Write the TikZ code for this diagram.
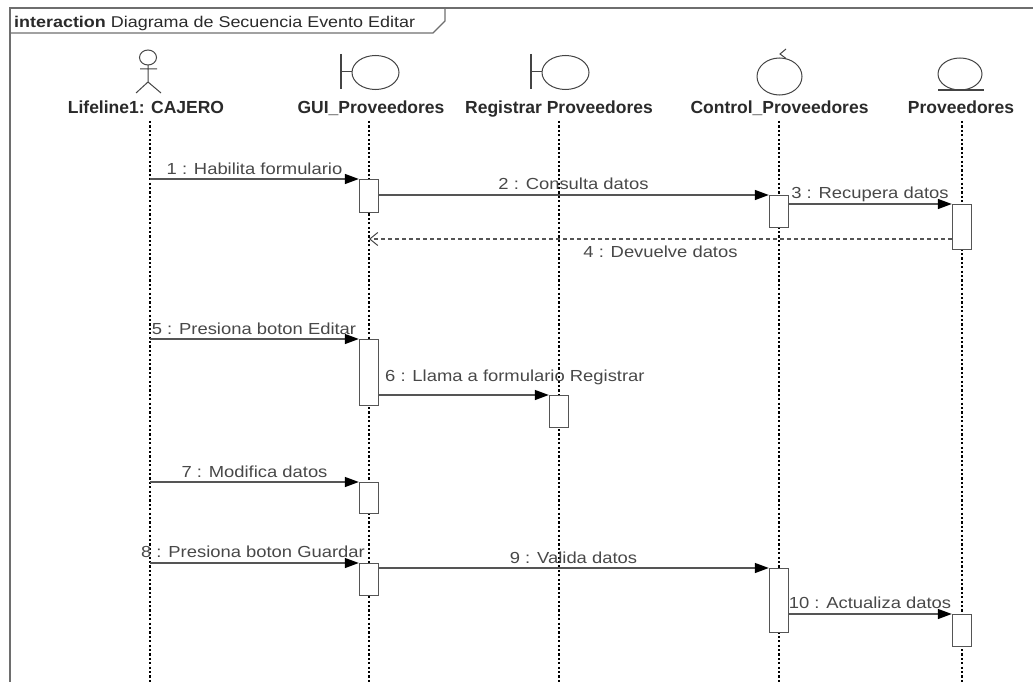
\documentclass[tikz,border=0pt]{standalone}
\usepackage{fontspec}
\setmainfont{Liberation Sans}
\newfontfamily\msgfont[FakeStretch=1.15]{Liberation Sans}
\usetikzlibrary{arrows.meta}
\definecolor{framec}{HTML}{6E6E6E}
\definecolor{ln}{HTML}{555555}
\definecolor{icn}{HTML}{444444}
\definecolor{txt}{HTML}{484848}
\definecolor{lbltxt}{HTML}{2A2A2A}
\begin{document}
\begin{tikzpicture}[x=1pt,y=-1pt,
  frameline/.style={draw=framec, line width=1.6pt},
  life/.style={draw=black, line width=1.1pt, dash pattern=on 2.2pt off 2.2pt},
  act/.style={draw=ln, line width=1.4pt, fill=white, minimum width=19pt, inner sep=0pt, anchor=north},
  msg/.style={draw=ln, line width=1.4pt, -{Triangle[length=14pt,width=10pt,fill=black,color=black]}},
  ret/.style={draw=ln, line width=1.2pt, dash pattern=on 4pt off 3pt, -{Straight Barb[length=8pt,width=13pt,line width=1pt,color=icn]}},
  mlbl/.style={font=\msgfont\fontsize{16}{18}\selectfont, text=txt, inner sep=0pt, anchor=base},
  lbl/.style={font=\bfseries\fontsize{17.5}{20}\selectfont, text=lbltxt, inner sep=0pt, anchor=base},
  icon/.style={draw=icn, line width=1pt}
]
\useasboundingbox (0,0) rectangle (1033,682);
% frame
\draw[frameline] (10,682) -- (10,8) -- (1033,8);
\draw[frameline, line width=1.2pt] (10,33) -- (433,33) -- (445,21) -- (445,8);
\node[inner sep=0pt, anchor=base west, text=lbltxt] (title) at (14,28)
  {\msgfont\fontsize{15.6}{18}\selectfont\bfseries interaction\mdseries\ Diagrama de Secuencia Evento Editar};

% lifeline heads
\node[lbl] (h1) at (146,114) {Lifeline1: CAJERO};
\node[lbl] (h2) at (371,114) {GUI\_Proveedores};
\node[lbl] (h3) at (559,114) {Registrar Proveedores};
\node[lbl] (h4) at (779.5,114) {Control\_Proveedores};
\node[lbl] (h5) at (961,114) {Proveedores};

% icons
\draw[icon] (148,57.5) ellipse [x radius=8.5, y radius=7.5];
\draw[icon] (148,65) -- (148,82) (140,69) -- (157,69) (136,93) -- (148,82) -- (161,93);
\draw[icon, line width=1.5pt] (341,54) -- (341,89);
\draw[icon] (341,72) -- (352,72);
\draw[icon] (375.5,72.5) ellipse [x radius=23.5, y radius=17];
\draw[icon, line width=1.5pt] (531,54) -- (531,89);
\draw[icon] (531,72) -- (542,72);
\draw[icon] (565.5,72.5) ellipse [x radius=23.5, y radius=17];
\draw[icon] (779.5,76.5) ellipse [x radius=22.5, y radius=18.5];
\draw[icon] (786,49) -- (780,54) -- (786,58.5);
\draw[icon] (960,74) ellipse [x radius=22, y radius=16];
\draw[icon, line width=1.5pt] (938,90) -- (984,90);

% lifelines
\coordinate (L1) at (150,121);
\coordinate (L2) at (369,121);
\coordinate (L3) at (559,121);
\coordinate (L4) at (779,121);
\coordinate (L5) at (962,121);
\foreach \n in {L1,L2,L3,L4,L5} \draw[life] (\n) -- (\n |- 0,682);

% activations
\node[act, minimum height=33pt] (a1) at (369,179) {};
\node[act, minimum height=32pt] (a2) at (779,195) {};
\node[act, minimum height=45pt] (a3) at (962,204) {};
\node[act, minimum height=66pt] (a5) at (369,339) {};
\node[act, minimum height=32pt] (a6) at (559,395) {};
\node[act, minimum height=31pt] (a7) at (369,482) {};
\node[act, minimum height=32pt] (a8) at (369,563) {};
\node[act, minimum height=64pt] (a9) at (779,568) {};
\node[act, minimum height=32pt] (a10) at (962,614) {};

% messages
\draw[msg] (L1 |- a1.north) -- (a1.north west);
\draw[msg] (a1.east |- a2.north) -- (a2.north west);
\draw[msg] (a2.east |- a3.north) -- (a3.north west);
\coordinate (r4) at (0,239);
\draw[ret] (a3.west |- r4) -- (L2 |- r4);
\draw[msg] (L1 |- a5.north) -- (a5.north west);
\draw[msg] (a5.east |- a6.north) -- (a6.north west);
\draw[msg] (L1 |- a7.north) -- (a7.north west);
\draw[msg] (L1 |- a8.north) -- (a8.north west);
\draw[msg] (a8.east |- a9.north) -- (a9.north west);
\draw[msg] (a9.east |- a10.north) -- (a10.north west);

% message labels
\node[mlbl] (t1) at (254.5,174) {1 : Habilita formulario};
\node[mlbl] (t2) at (573.5,189) {2 : Consulta datos};
\node[mlbl] (t3) at (870,198) {3 : Recupera datos};
\node[mlbl] (t4) at (660.5,257) {4 : Devuelve datos};
\node[mlbl] (t5) at (254,334) {5 : Presiona boton Editar};
\node[mlbl, anchor=base west] (t6) at (385,381) {6 : Llama a formulario Registrar};
\node[mlbl] (t7) at (254.5,477) {7 : Modifica datos};
\node[mlbl] (t8) at (253,557) {8 : Presiona boton Guardar};
\node[mlbl] (t9) at (573.5,563) {9 : Valida datos};
\node[mlbl] (t10) at (870,608) {10 : Actualiza datos};
\end{tikzpicture}
\end{document}
